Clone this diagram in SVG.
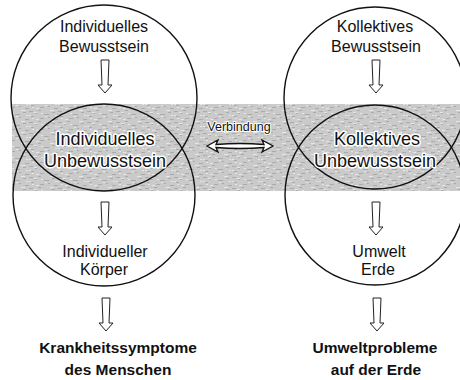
<svg xmlns="http://www.w3.org/2000/svg" width="460" height="380" viewBox="0 0 460 380">
  <defs>
    <pattern id="noise" x="0" y="0" width="29" height="11" patternUnits="userSpaceOnUse">
      <rect width="29" height="11" fill="#cacaca"/>
      <path d="M0,1.5h4M9,0.5h3M15,4.5h5M2,6.5h3M11,8.5h4M23,2.5h3M25,9.5h4M6,3.5h2M19,7.5h2" stroke="#ababab" stroke-width="1"/>
      <path d="M5,2.5h3M0,5.5h2M21,0.5h4M7,9.5h3M16,6.5h2M12,3.5h2M26,5.5h2M3,8.5h2" stroke="#e6e6e6" stroke-width="1"/>
    </pattern>
    <path id="darrow" d="M-4,0 L4,0 L3,25 L7,25 L0,33 L-7,25 L-3,25 Z" fill="#fff" stroke="#222" stroke-width="1"/>
  </defs>
  <style>
    .c { fill: none; stroke: #111; stroke-width: 1.4; }
    .t { font-family: "Liberation Sans", Arial, sans-serif; font-size: 16px; fill: #111; text-anchor: middle; }
    .u { font-family: "Liberation Sans", Arial, sans-serif; font-size: 18px; fill: #111; text-anchor: middle; stroke: #fff; stroke-width: 3; stroke-linejoin: round; paint-order: stroke; }
    .b { font-family: "Liberation Sans", Arial, sans-serif; font-size: 15.5px; font-weight: bold; fill: #111; text-anchor: middle; }
    .v { font-family: "Liberation Sans", Arial, sans-serif; font-size: 12.5px; fill: #111; text-anchor: middle; stroke: #fff; stroke-width: 2; stroke-linejoin: round; paint-order: stroke; }
  </style>
  <rect id="band" x="12" y="104" width="448" height="87" fill="url(#noise)"/>
  <g id="circles">
    <circle class="c" cx="104" cy="98" r="93"/>
    <circle class="c" cx="104" cy="195" r="91"/>
    <circle class="c" cx="375" cy="98" r="91"/>
    <circle class="c" cx="375" cy="195" r="90"/>
  </g>
  <g id="indiv-bewusstsein">
    <text class="t" x="104" y="32">Individuelles</text>
    <text class="t" x="104" y="52">Bewusstsein</text>
  </g>
  <g id="indiv-unbewusstsein">
    <text class="u" x="105" y="145">Individuelles</text>
    <text class="u" x="105" y="167">Unbewusstsein</text>
  </g>
  <g id="indiv-koerper">
    <text class="t" x="105" y="257">Individueller</text>
    <text class="t" x="104" y="275">Körper</text>
  </g>
  <g id="krankheit">
    <text class="b" x="118" y="353">Krankheitssymptome</text>
    <text class="b" x="118" y="375">des Menschen</text>
  </g>
  <g id="kollekt-bewusstsein">
    <text class="t" x="375" y="32">Kollektives</text>
    <text class="t" x="376" y="52">Bewusstsein</text>
  </g>
  <g id="kollekt-unbewusstsein">
    <text class="u" x="377" y="145">Kollektives</text>
    <text class="u" x="375" y="167">Unbewusstsein</text>
  </g>
  <g id="umwelt-erde">
    <text class="t" x="379" y="257">Umwelt</text>
    <text class="t" x="378" y="275">Erde</text>
  </g>
  <g id="umweltprobleme">
    <text class="b" x="375" y="353">Umweltprobleme</text>
    <text class="b" x="376" y="375">auf der Erde</text>
  </g>
  <g id="verbindung">
    <text class="v" x="239" y="131">Verbindung</text>
  </g>
  <g id="connectors">
    <use href="#darrow" x="105" y="60"/>
    <use href="#darrow" x="105" y="202"/>
    <use href="#darrow" x="106" y="298"/>
    <use href="#darrow" x="376" y="60"/>
    <use href="#darrow" x="376" y="202"/>
    <use href="#darrow" x="377" y="298"/>
    <path d="M207,146 L218,140 L216,144.5 Q240,142.5 264,144.5 L262,140 L273,146 L262,152 L264,147.5 Q240,149.5 216,147.5 L218,152 Z" fill="#fff" stroke="#111" stroke-width="1.3" stroke-linejoin="miter"/>
  </g>
</svg>
